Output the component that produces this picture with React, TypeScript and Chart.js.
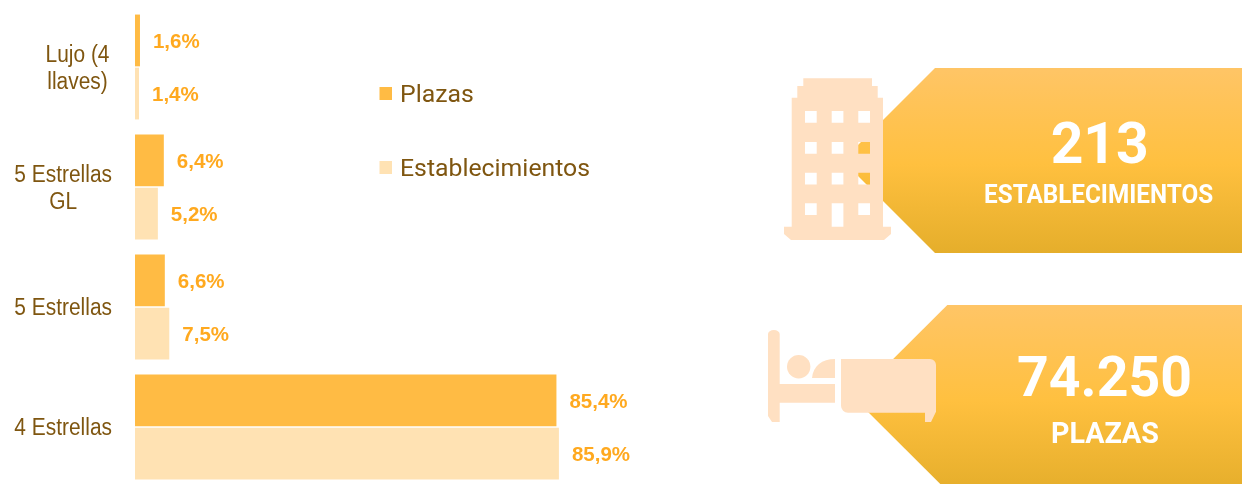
import React, { useEffect, useRef } from "react";
import { Chart, registerables } from "chart.js";

Chart.register(...registerables);

const categories: string[][] = [["Lujo (4", "llaves)"], ["5 Estrellas", "GL"], ["5 Estrellas"], ["4 Estrellas"]];
const plazas = [1.6, 6.4, 6.6, 85.4];
const establecimientos = [1.4, 5.2, 7.5, 85.9];
const seriesNames = ["Plazas", "Establecimientos"];
const seriesColors = ["#FFBB44", "#FFE2B3"];
const kpiOne = { value: "213", label: "ESTABLECIMIENTOS" };
const kpiTwo = { value: "74.250", label: "PLAZAS" };

const BROWN = "#7F5610";
const LABEL = "#FFA91F";
const NARROW = 0.89;

const overlayPlugin = {
  id: "overlay",
  afterDatasetsDraw(chart: any) {
    const { ctx, scales } = chart;
    ctx.save();
    // value labels
    ctx.font = 'bold 20.5px "Liberation Sans"';
    ctx.fillStyle = LABEL;
    ctx.textAlign = "left";
    ctx.textBaseline = "middle";
    chart.data.datasets.forEach((ds: any, d: number) => {
      chart.getDatasetMeta(d).data.forEach((bar: any, i: number) => {
        const text = ds.data[i].toFixed(1).replace(".", ",") + "%";
        ctx.fillText(text, bar.x + 13, bar.y + 2);
      });
    });
    // category labels: each block centred on its own widest line, right edge fixed
    ctx.font = '23.5px "Liberation Sans"';
    ctx.fillStyle = BROWN;
    ctx.textAlign = "center";
    ctx.textBaseline = "alphabetic";
    const lineH = 27;
    (chart.data.labels as string[][]).forEach((lines, i) => {
      const y = scales.y.getPixelForValue(i);
      const w = NARROW * Math.max(...lines.map((l) => ctx.measureText(l).width));
      const cx = (lines.length > 1 && w < 80 ? 109.5 : 112) - w / 2;
      lines.forEach((l, j) => {
        ctx.save();
        ctx.translate(cx, y + 8 - ((lines.length - 1) * lineH) / 2 + j * lineH);
        ctx.scale(NARROW, 1);
        ctx.fillText(l, 0, 0);
        ctx.restore();
      });
    });
    // legend
    ctx.font = "24.8px Roboto";
    ctx.textAlign = "left";
    const rows = [101.5, 175.5];
    chart.data.datasets.forEach((ds: any, d: number) => {
      ctx.fillStyle = ds.backgroundColor;
      ctx.fillRect(379.5, rows[d] - 14.5, 12.5, 13);
      ctx.fillStyle = BROWN;
      ctx.fillText(ds.label, 400, rows[d]);
    });
    ctx.restore();
  },
};

const buildingPath =
  "M803.3 78.3H872V86H877.7V97.7H883V226.7H891V234L884 240H791L784 234V226.7H791.7V97.7H797.3V86H803.3Z" +
  [805, 831.7, 858.3]
    .flatMap((x) =>
      [111, 142, 172.7, 203.3].map((y) => {
        const h = x === 831.7 && y === 203.3 ? 23.4 : 11.7;
        return `M${x} ${y}h11.7v${h}h-11.7Z`;
      })
    )
    .join("");

export default function App() {
  const ref = useRef<HTMLCanvasElement>(null);
  useEffect(() => {
    const chart = new Chart(ref.current!, {
      type: "bar",
      data: {
        labels: categories as any,
        datasets: [
          { label: seriesNames[0], data: plazas, backgroundColor: seriesColors[0], categoryPercentage: 0.885, barPercentage: 0.975 },
          { label: seriesNames[1], data: establecimientos, backgroundColor: seriesColors[1], categoryPercentage: 0.885, barPercentage: 0.975 },
        ],
      },
      options: {
        indexAxis: "y",
        responsive: false,
        animation: false,
        layout: { padding: { left: 135, right: 11, top: 7, bottom: 13 } },
        scales: {
          x: { display: false, min: 0.6, max: 100 },
          y: { display: false },
        },
        plugins: { legend: { display: false }, tooltip: { enabled: false } },
      },
      plugins: [overlayPlugin],
    } as any);
    return () => chart.destroy();
  }, []);

  const rb = { fontFamily: "Roboto", fontWeight: 700, fill: "#fff", textAnchor: "middle" } as const;
  return (
    <div style={{ position: "fixed", left: 0, top: 0, width: 1242, height: 484, overflow: "hidden", background: "#fff" }}>
      <canvas ref={ref} width={640} height={500} style={{ position: "absolute", left: 0, top: 0, display: "block" }} />
      <svg width={1242} height={484} style={{ position: "absolute", left: 0, top: 0, pointerEvents: "none" }}>
        <defs>
          <linearGradient id="g" x1="0" y1="0" x2="0" y2="1">
            <stop offset="0" stopColor="#FFC566" />
            <stop offset="0.52" stopColor="#FFC03F" />
            <stop offset="1" stopColor="#E5AE2B" />
          </linearGradient>
        </defs>
        <polygon points="935,68 1242,68 1242,253 935,253 842.5,160.5" fill="url(#g)" />
        <polygon points="947.3,305 1242,305 1242,491 947.3,491 854,398" fill="url(#g)" />
        <path d={buildingPath} fill="#FFE0C2" fillRule="evenodd" />
        <g fill="#FFE0C2">
          <path d="M768 334a5.8 4 0 0 1 11.7 0V384H835V402.7H779.7V422H772L768 416Z" />
          <circle cx={798.7} cy={366.7} r={11.7} />
          <path d="M812 378C813 366 822 359 835 359V378Z" />
          <path d="M841 359H930a6 6 0 0 1 6 6V411.7L931 422H925V412.7H848a7 7 0 0 1 -7 -7Z" />
        </g>
        <text x={1099.7} y={163.3} fontSize={57} {...rb}>{kpiOne.value}</text>
        <text x={1098.6} y={202.7} fontSize={25} textLength={229} lengthAdjust="spacingAndGlyphs" {...rb}>{kpiOne.label}</text>
        <text x={1104.5} y={396} fontSize={56} textLength={175} lengthAdjust="spacingAndGlyphs" {...rb}>{kpiTwo.value}</text>
        <text x={1105} y={442.7} fontSize={30} textLength={108} lengthAdjust="spacingAndGlyphs" {...rb}>{kpiTwo.label}</text>
      </svg>
    </div>
  );
}
